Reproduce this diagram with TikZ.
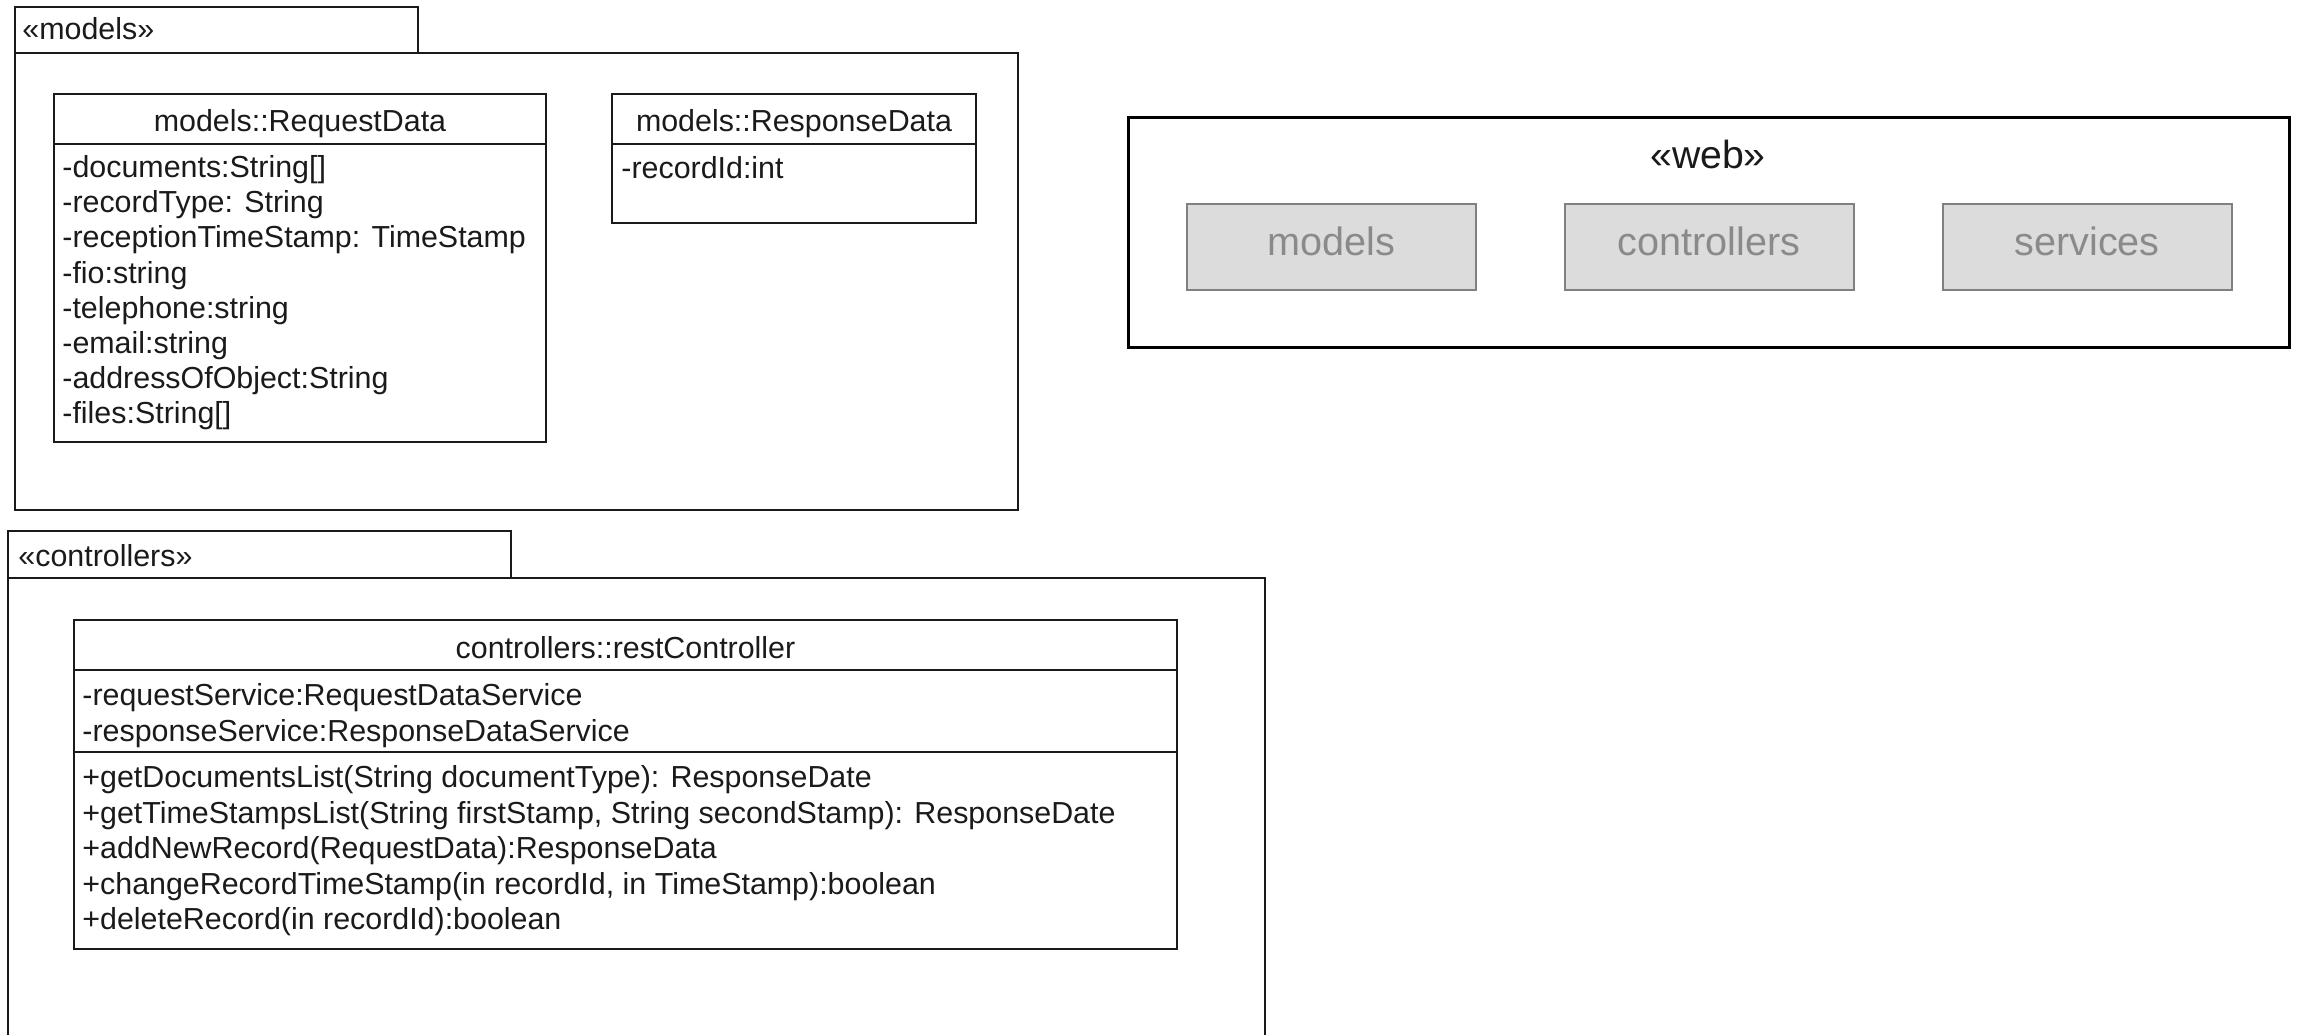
\documentclass[tikz,border=0pt]{standalone}
\usepackage{fontspec}
\setmainfont{Liberation Sans}
\definecolor{gboxfill}{HTML}{DCDCDC}
\definecolor{gboxline}{HTML}{808080}
\definecolor{gboxtext}{HTML}{8A8A8A}
\definecolor{ink}{HTML}{1A1A1A}
\begin{document}
\begin{tikzpicture}[x=0.5pt,y=-0.5pt,
  ln/.style={draw=ink, line width=0.75pt},
  webln/.style={draw=black, line width=1.5pt},
  txt/.style={inner sep=0pt, anchor=base west, text=ink, font=\fontsize{15.2}{18}\selectfont},
  ttl/.style={inner sep=0pt, anchor=base, text=ink, font=\fontsize{15.2}{18}\selectfont},
  bigttl/.style={inner sep=0pt, anchor=base, text=ink, font=\fontsize{19.6}{22}\selectfont},
  gbox/.style={draw=gboxline, fill=gboxfill, line width=1pt, minimum width=144.5pt,
    minimum height=43pt, inner sep=0pt, text=gboxtext,
    font=\fontsize{19.8}{22}\selectfont, text height=8pt, text depth=0pt}]
\useasboundingbox (0,0) rectangle (2297,1034);
\clip (0,0) rectangle (2297,1034);

% ---------- package models ----------
\draw[ln] (15,7) rectangle (418,53);
\draw[ln] (15,53) rectangle (1018,510);
\node[txt] (mstereo) at (22,39) {«models»};

% class RequestData
\draw[ln] (54,94) rectangle (546,442);
\draw[ln] (54,144) -- (546,144);
\node[ttl] (reqtitle) at (300,131) {models::RequestData};
\node[txt] (r1) at (62,177.5) {-documents:String[]};
\node[txt] (r2) at (62,212.7) {-recordType: String};
\node[txt] (r3) at (62,247.9) {-receptionTimeStamp: TimeStamp};
\node[txt] (r4) at (62,283.1) {-fio:string};
\node[txt] (r5) at (62,318.3) {-telephone:string};
\node[txt] (r6) at (62,353.5) {-email:string};
\node[txt] (r7) at (62,388.7) {-addressOfObject:String};
\node[txt] (r8) at (62,423.9) {-files:String[]};

% class ResponseData
\draw[ln] (612,94) rectangle (976,223);
\draw[ln] (612,144) -- (976,144);
\node[ttl] (restitle) at (794,131) {models::ResponseData};
\node[txt] (s1) at (621,178) {-recordId:int};

% ---------- web ----------
\draw[webln] (1128,117) rectangle (2289,347);
\node[bigttl] (webstereo) at (1708,168) {«web»};
\node[gbox] (gmodels) at (1331.5,247) {models};
\node[gbox] (gcontrollers) at (1709,247) {controllers};
\node[gbox] (gservices) at (2087,247) {services};

% ---------- package controllers ----------
\draw[ln] (8,531) rectangle (511,578);
\draw[ln] (8,578) rectangle (1265,1050);
\node[txt] (cstereo) at (18,566) {«controllers»};

% class restController
\draw[ln] (74,620) rectangle (1177,949);
\draw[ln] (74,670) -- (1177,670);
\draw[ln] (74,752) -- (1177,752);
\node[ttl] (rctitle) at (625.5,658) {controllers::restController};
\node[txt] (c1) at (82,705) {-requestService:RequestDataService};
\node[txt] (c2) at (82,741) {-responseService:ResponseDataService};
\node[txt] (o1) at (82,787) {+getDocumentsList(String documentType): ResponseDate};
\node[txt] (o2) at (82,823) {+getTimeStampsList(String firstStamp, String secondStamp): ResponseDate};
\node[txt] (o3) at (82,858) {+addNewRecord(RequestData):ResponseData};
\node[txt] (o4) at (82,894) {+changeRecordTimeStamp(in recordId, in TimeStamp):boolean};
\node[txt] (o5) at (82,929) {+deleteRecord(in recordId):boolean};
\end{tikzpicture}
\end{document}
